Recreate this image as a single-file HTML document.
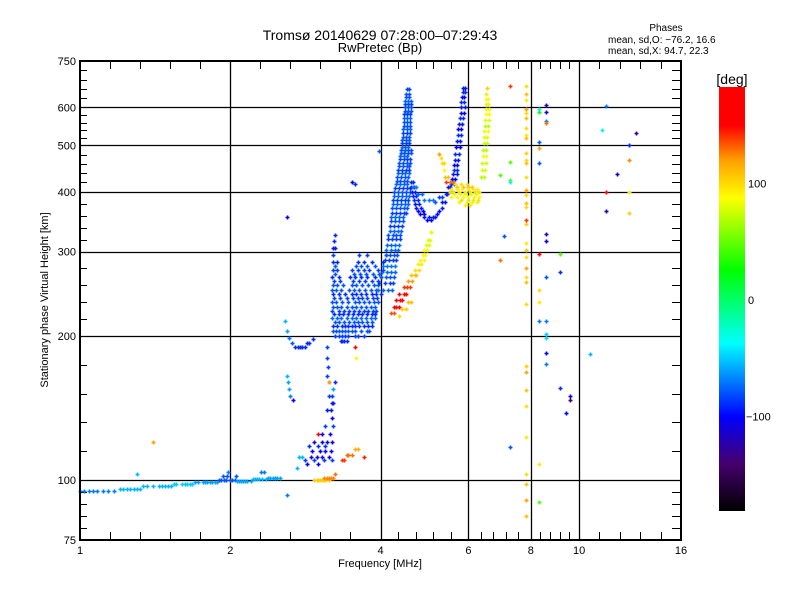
<!DOCTYPE html>
<html><head><meta charset="utf-8"><title>Ionogram</title>
<style>
html,body{margin:0;padding:0;background:#fff;}
svg{display:block;font-family:"Liberation Sans",sans-serif;}
</style></head>
<body>
<svg id="chart" width="800" height="600" viewBox="0 0 800 600" xmlns="http://www.w3.org/2000/svg">
<defs>
<linearGradient id="cbgrad" x1="0" y1="0" x2="0" y2="1">
<stop offset="0" stop-color="#ff0000"/>
<stop offset="0.0909" stop-color="#ff0000"/>
<stop offset="0.1736" stop-color="#ffa000"/>
<stop offset="0.2617" stop-color="#ffff00"/>
<stop offset="0.4320" stop-color="#00ff00"/>
<stop offset="0.6047" stop-color="#00ffff"/>
<stop offset="0.7775" stop-color="#0000ff"/>
<stop offset="0.8874" stop-color="#46006e"/>
<stop offset="1" stop-color="#000000"/>
</linearGradient>
</defs>
<g id="grid"></g>
<g id="ticks"></g>
<g id="points"></g>
<rect x="80" y="61" width="601" height="479" fill="none" stroke="#000" stroke-width="2"/>
<g id="xlabels" font-size="11" text-anchor="middle"></g>
<g id="ylabels" font-size="11" text-anchor="end"></g>
<text x="380" y="40" font-size="14" text-anchor="middle">Tromsø 20140629 07:28:00–07:29:43</text>
<text x="380" y="52" font-size="13" text-anchor="middle">RwPretec (Bp)</text>
<text x="666" y="31" font-size="10" text-anchor="middle">Phases</text>
<text x="608" y="43" font-size="10">mean, sd,O: −76.2, 16.6</text>
<text x="608" y="54" font-size="10">mean, sd,X:  94.7, 22.3</text>
<text x="380" y="567" font-size="11" text-anchor="middle">Frequency [MHz]</text>
<text transform="translate(48,300) rotate(-90)" font-size="11" text-anchor="middle">Stationary phase Virtual Height [km]</text>
<text x="732" y="84" font-size="14" text-anchor="middle">[deg]</text>
<rect x="719" y="87" width="26" height="424" fill="url(#cbgrad)"/>
<g id="cblabels" font-size="11"></g>
</svg>
<script>
// axis config
const xMajor = [1, 2, 4, 6, 8, 10, 16];
const yMajor = [75, 100, 200, 300, 400, 500, 600, 750];
const cbTicks = [100, 0, -100];

// dense groups: rows [height_km, phase_deg, freq1, freq2, ...]
const eTrace = [
 [95,-70,1.0,1.02,1.04,1.06,1.08,1.11,1.14,1.17],
 [96,-55,1.2,1.22,1.24,1.26,1.28,1.3,1.32],
 [97,-55,1.34,1.36,1.4,1.44,1.46,1.48,1.5,1.52],
 [98,-50,1.54,1.56,1.6,1.62,1.64,1.66,1.68],
 [99,-60,1.7,1.72,1.76,1.78,1.8,1.82,1.84,1.86,1.88],
 [100,-80,1.9,1.92,1.94,1.96,2.0,2.02,2.04],
 [99.5,-60,2.06,2.08,2.1,2.12,2.14,2.16,2.2],
 [100.5,-55,2.22,2.24,2.26,2.28,2.32,2.36],
 [101,-60,2.38,2.4,2.44,2.46,2.48,2.52],
 [102,-80,1.93,1.97,2.05],
 [104,-70,1.98,2.3,2.34]
];
const lowTraces = [
 [215,-55,2.58],[205,-60,2.6],[198,-70,2.62],[193,-80,2.66],[190,-90,2.7,2.73,2.76,2.79,2.82],[193,-90,2.85,2.88],[197,-90,2.93],
 [165,-55,2.6],[160,-60,2.61],[155,-60,2.62],[150,-70,2.64],[147,-100,2.67]
];
const lowScatter = [
 [190,-85,3.13],[180,-85,3.13],[172,-85,3.14],[165,-85,3.13],[160,-90,3.15,3.24],[155,-60,3.22],[150,-85,3.15,3.2],
 [145,-95,3.2,3.22],[140,-95,3.12,3.18],[135,-100,3.2],[130,-85,3.1,3.22],[125,-105,3.05,3.17],
 [120,-110,2.95,3.05,3.12,3.2],[118,-90,2.88,3.0,3.1],[115,-100,2.92,3.02,3.1,3.18],[112,-115,2.9,2.98,3.05,3.15],
 [110,-85,2.82,2.95,3.08,3.2],[108,-100,2.85,3.0],[112,-55,2.75,2.78],[106,-55,2.72]
];
const lowOrange = [
 [100,105,2.95,2.98,3.0,3.03,3.05,3.08,3.1,3.15],[101,125,3.08,3.12,3.15,3.18,3.22],[103,130,3.25],[110,140,3.35,3.38],
 [113,130,3.42,3.45,3.5],[116,115,3.55,3.6],[112,145,3.7],[125,160,3.0],[160,120,3.15]
];
const blueCluster = [
 [195,-90,3.33,3.35,3.38,3.42],
 [200,-85,3.25,3.3,3.35,3.4,3.45,3.55,3.6,3.7],
 [205,-80,3.22,3.26,3.3,3.35,3.4,3.45,3.5,3.55,3.65,3.75,3.8],
 [210,-90,3.22,3.28,3.35,3.4,3.45,3.5,3.55,3.62,3.7,3.78,3.85],
 [214,-80,3.24,3.3,3.38,3.46,3.54,3.6,3.68,3.76,3.84],
 [218,-75,3.2,3.27,3.33,3.42,3.5,3.58,3.66,3.74,3.82,3.9],
 [222,-90,3.23,3.3,3.36,3.44,3.52,3.6,3.68,3.76,3.84,3.9],
 [226,-85,3.2,3.3,3.38,3.46,3.54,3.62,3.7,3.78,3.86,3.92],
 [230,-80,3.22,3.28,3.34,3.42,3.5,3.58,3.66,3.74,3.82,3.9],
 [235,-80,3.2,3.26,3.35,3.45,3.55,3.62,3.7,3.8,3.88,3.95],
 [240,-85,3.23,3.32,3.42,3.52,3.6,3.68,3.76,3.86,3.94],
 [245,-90,3.22,3.3,3.4,3.5,3.58,3.66,3.74,3.84,3.92,4.0],
 [250,-80,3.2,3.26,3.34,3.46,3.54,3.62,3.72,3.82,3.92],
 [255,-80,3.21,3.28,3.36,3.5,3.58,3.68,3.78,3.88,3.96],
 [260,-85,3.23,3.32,3.52,3.62,3.72,3.84,3.96],
 [265,-90,3.2,3.3,3.48,3.56,3.66,3.76,3.9,4.0],
 [270,-80,3.24,3.54,3.64,3.74,3.86,3.98],
 [275,-85,3.22,3.28,3.5,3.6,3.7,3.8,3.95,4.05],
 [280,-80,3.25,3.58,3.66,3.76,3.9],
 [285,-90,3.21,3.27,3.6,3.7,3.85,4.05],
 [295,-85,3.22,3.62,3.75,4.1],
 [305,-95,3.22,3.25],[315,-90,3.23],[325,-90,3.24]
];
const fColumn = [
 [250,-75,3.95,4.05,4.15,4.22],[258,-85,3.98,4.08,4.18,4.24],[265,-80,4.0,4.1,4.18,4.25],[272,-75,4.02,4.12,4.2,4.27],
 [280,-70,4.05,4.12,4.2,4.28],[288,-85,4.08,4.16,4.24,4.3],[295,-80,4.1,4.17,4.25,4.32],[302,-75,4.11,4.19,4.27,4.34],
 [310,-75,4.12,4.2,4.28,4.35],[318,-85,4.14,4.22,4.3,4.37],[325,-80,4.15,4.23,4.3,4.38],[332,-75,4.17,4.25,4.33,4.4],
 [340,-85,4.18,4.26,4.34,4.42],[348,-80,4.19,4.27,4.35,4.43],[355,-75,4.2,4.28,4.36,4.44],[362,-85,4.21,4.29,4.37,4.45,4.5],
 [370,-80,4.22,4.3,4.38,4.46,4.52],[378,-75,4.23,4.31,4.39,4.47,4.54],[385,-85,4.24,4.32,4.4,4.48,4.55],[392,-75,4.25,4.33,4.41,4.49,4.56],
 [400,-80,4.26,4.34,4.42,4.5,4.58],[408,-85,4.28,4.36,4.44,4.51,4.58],
 [415,-75,4.3,4.37,4.45,4.52],[422,-80,4.31,4.38,4.46,4.53],[430,-80,4.32,4.4,4.47,4.55],[438,-75,4.33,4.41,4.48,4.56],
 [445,-85,4.34,4.42,4.5,4.56],[452,-80,4.35,4.43,4.51,4.57],[460,-80,4.36,4.44,4.52,4.58],[468,-85,4.37,4.45,4.52,4.58],
 [475,-75,4.38,4.45,4.53],[482,-80,4.39,4.46,4.54,4.6],[490,-80,4.4,4.47,4.55,4.6],[497,-75,4.41,4.48,4.55],[505,-85,4.42,4.49,4.56],[512,-80,4.42,4.5,4.57],[520,-80,4.43,4.5,4.57],
 [530,-85,4.44,4.51,4.58],[540,-75,4.44,4.51,4.58],[550,-80,4.45,4.52,4.58],[560,-80,4.45,4.52,4.58],[570,-75,4.46,4.53,4.59],[580,-85,4.46,4.53,4.59],[590,-80,4.47,4.54,4.6],[600,-80,4.47,4.54,4.6],
 [610,-85,4.48,4.55,4.6],[620,-75,4.48,4.55,4.6],[630,-80,4.49,4.56],[640,-80,4.5,4.57],[655,-85,4.52,4.56]
];
const cusp = [
 [420,-90,4.6,4.65],[410,-95,4.61,4.67],[400,-95,4.62,4.7],[392,-90,4.64,4.72],[385,-90,4.66,4.75],[378,-95,4.69,4.78],[370,-95,4.72,4.82,5.3],[365,-100,4.76,4.86,5.25],[360,-100,4.8,4.9,5.2],
 [355,-95,4.88,5.0,5.1,5.15],[350,-100,4.95,5.05],[380,-95,5.3,5.38],[395,-90,5.4,5.44],[410,-95,5.45,5.5],
 [410,-70,4.65,4.72],[395,-75,4.75,4.85],[385,-70,4.9,5.0,5.1],[380,-80,5.15],[390,-85,5.25,5.3]
];
const xColumn = [
 [660,-95,5.85,5.9],[645,-90,5.84,5.9],[630,-100,5.82,5.88],[615,-90,5.81,5.89],[600,-95,5.8,5.9],[585,-100,5.79,5.87],[570,-90,5.78,5.86],[555,-95,5.75,5.83],[540,-100,5.72,5.8],
 [525,-90,5.71,5.79],[510,-95,5.7,5.78],[495,-100,5.67,5.76],[480,-90,5.65,5.75],[467,-95,5.63,5.72],[455,-100,5.62,5.7],[445,-90,5.61,5.69],[435,-95,5.6,5.68],[425,-100,5.57,5.65],[415,-90,5.55,5.62],[400,-100,5.52,5.6]
];
const yellowLower = [
 [223,135,4.2,4.25],[230,150,4.25,4.3,4.35],[238,160,4.3,4.38,4.42],[245,150,4.35,4.45,4.5],[253,140,4.45,4.52,4.58],
 [260,120,4.55,4.62],[268,110,4.6,4.68,4.72],[275,100,4.7,4.78],[282,95,4.75,4.83],[288,90,4.8,4.88],[295,90,4.86,4.92],[302,85,4.9,4.96],
 [310,80,4.94,5.0],[317,80,4.98,5.02],[330,80,5.04,5.06],[220,100,4.35],[228,105,4.42,4.5],[236,110,4.55,4.6]
];
const yellowUpper = [
 [420,130,5.5,5.6],[415,100,5.65,5.8,5.95],[410,110,5.7,5.85,6.0,6.1],[405,95,5.55,5.68,5.82,5.98,6.12,6.25],[400,100,5.5,5.6,5.75,5.9,6.05,6.2,6.3],
 [395,80,5.62,5.78,5.92,6.08,6.22],[390,90,5.55,5.7,5.85,6.0,6.15,6.3],
 [385,100,5.8,5.98,6.12,6.28],[380,80,5.75,5.95,6.1,6.25],[375,95,5.9,6.05],
 [480,120,5.25],[470,100,5.28],[460,100,5.3,5.35],[445,90,5.35],[430,110,5.38,5.45],[420,140,5.42],
 [430,70,6.35,6.45],[445,80,6.38,6.48],[460,75,6.4,6.5],[475,85,6.41,6.51],[490,70,6.42,6.52],[505,75,6.44,6.54],[520,80,6.45,6.55],[535,85,6.46,6.56],[550,70,6.48,6.58],
 [565,80,6.49,6.59],[580,90,6.5,6.6],[595,85,6.5,6.59],[610,80,6.5,6.58],[625,90,6.51,6.57],[640,95,6.52],[660,105,6.55]
];
// sparse echoes
const line783H = [666,641,621,596,584,569,543,525,517,481,467,459,430,403,394,379,372,349,343,312,302,293,277,265,259,233,173,168,154,143,123,103,98,90.7,84];
const line783P = [100,110,95,120,100,110,100,95,110,105,100,110,100,120,100,110,100,140,105,95,110,100,120,100,110,100,105,120,110,100,95,100,110,120,110];
const sparse = [
 [8.3,596,-40],[8.3,586,20],[8.3,509,-80],[8.3,493,120],[8.3,459,-80],[8.3,296,160],[8.3,250,100],[8.3,235,95],[8.3,215,-70],[8.3,108,95],[8.3,90,45],
 [8.6,607,-120],[8.6,586,-110],[8.6,562,-70],[8.6,556,130],[8.6,327,-120],[8.6,316,-110],[8.6,265,-80],[8.6,215,-70],[8.6,202,-50],[8.6,198,-45],[8.6,184,-100],[8.6,175,-70],
 [9.14,296,45],[9.14,272,-90],[9.14,156,-90],[9.6,150,-110],[9.6,147,-140],[9.4,138,-100],[10.5,183,-55],
 [11.3,603,-70],[11.3,399,170],[11.3,365,-120],[11.1,538,-40],[13.0,530,-130],[12.6,500,-90],[12.6,465,125],[12.6,400,95],[12.6,362,105],[11.9,435,-120],
 [7.26,666,140],[7.26,461,45],[7.26,424,45],[7.26,419,-40],[7.26,117,-80],[7.07,324,-80],[6.95,288,130],[6.95,433,45],
 [3.5,420,-100],[3.55,415,-90],[2.6,355,-100],[3.98,486,-80],[1.4,120,120],[3.55,190,160],[3.58,180,90],[1.3,103,-55],[2.6,93,-70]
];

// scales
const X0 = 80, X1 = 681, Y0 = 61, Y1 = 540;
const fx = f => X0 + (X1 - X0) * Math.log(f / 1) / Math.log(16);
const hy = h => Y1 - (Y1 - Y0) * Math.log(h / 75) / Math.log(10);
const py = p => 300 - (p * 1.165);

// colormap
const cstops = [[-180,[0,0,0]],[-140,[70,0,110]],[-100,[0,0,255]],[-37,[0,255,255]],[26,[0,255,0]],[88,[255,255,0]],[120,[255,160,0]],[150,[255,0,0]],[180,[255,0,0]]];
function pcol(p){
  p = Math.max(-180, Math.min(180, p));
  for (let i = 0; i < cstops.length - 1; i++) {
    const a = cstops[i], b = cstops[i+1];
    if (p <= b[0]) {
      const t = (p - a[0]) / (b[0] - a[0]);
      const c = a[1].map((v, k) => Math.round(v + (b[1][k] - v) * t));
      return `rgb(${c[0]},${c[1]},${c[2]})`;
    }
  }
  return 'rgb(255,0,0)';
}
const NS = 'http://www.w3.org/2000/svg';
function mk(tag, attrs, parent){ const e = document.createElementNS(NS, tag); for (const k in attrs) e.setAttribute(k, attrs[k]); parent.appendChild(e); return e; }

// grid & ticks
const gGrid = document.getElementById('grid'), gTicks = document.getElementById('ticks');
xMajor.slice(1, -1).forEach(f => {
  const x = Math.round(fx(f)) + 0.5;
  const l = mk('line', {x1:x, x2:x, y1:Y0, y2:Y1, stroke:'#000', 'stroke-width':1.3}, gGrid);
  
  
});
yMajor.slice(1, -1).forEach(h => {
  const y = Math.round(hy(h)) + 0.5;
  const l = mk('line', {x1:X0, x2:X1, y1:y, y2:y, stroke:'#000', 'stroke-width':1.3}, gGrid);
  
  
});
for (let i = 0; i < xMajor.length - 1; i++) {
  const a = fx(xMajor[i]), b = fx(xMajor[i+1]);
  for (let k = 1; k < 5; k++) {
    const x = Math.round(a + (b - a) * k / 5) + 0.5;
    const t1 = mk('line', {x1:x, x2:x, y1:Y1, y2:Y1-8, stroke:'#000'}, gTicks);
    
    
    const t2 = mk('line', {x1:x, x2:x, y1:Y0, y2:Y0+8, stroke:'#000'}, gTicks);
    
    
  }
}
for (let i = 0; i < yMajor.length - 1; i++) {
  const a = hy(yMajor[i]), b = hy(yMajor[i+1]);
  for (let k = 1; k < 5; k++) {
    const y = Math.round(a + (b - a) * k / 5) + 0.5;
    const t1 = mk('line', {x1:X0, x2:X0+7, y1:y, y2:y, stroke:'#000'}, gTicks);
    
    
    const t2 = mk('line', {x1:X1, x2:X1-9, y1:y, y2:y, stroke:'#000'}, gTicks);
    
    
  }
}
// labels
const gx = document.getElementById('xlabels'), gy = document.getElementById('ylabels'), gc = document.getElementById('cblabels');
xMajor.forEach(f => {
  const t = mk('text', {x: fx(f), y: 554}, gx); t.textContent = f;
  
  
});
yMajor.forEach(h => {
  const t = mk('text', {x: 76, y: hy(h) + 4}, gy); t.textContent = h;
  
  
});
cbTicks.forEach(p => {
  const t = mk('text', {x: p < 0 ? 746 : 748, y: py(p) + 4}, gc); t.textContent = p < 0 ? '−' + (-p) : p;
  
  
});

// points (plus markers)
const gP = document.getElementById('points');
function plus(f, h, p){
  const x = Math.round(fx(f)), y = Math.round(hy(h));
  const e = mk('path', {d:`M${x-1.5} ${y+0.5}h4M${x+0.5} ${y-1.5}v4`, stroke: pcol(p), 'stroke-width':1.6, fill:'none'}, gP);
  
  
}
function drawRows(rows){ rows.forEach(r => { for (let i = 2; i < r.length; i++) plus(r[i], r[0], r[1]); }); }
[eTrace, lowTraces, lowScatter, blueCluster, fColumn, cusp, xColumn, lowOrange, yellowLower, yellowUpper].forEach(drawRows);
line783H.forEach((h, i) => plus(7.83, h, line783P[i]));
sparse.forEach(s => plus(s[0], s[1], s[2]));
</script>
</body></html>
